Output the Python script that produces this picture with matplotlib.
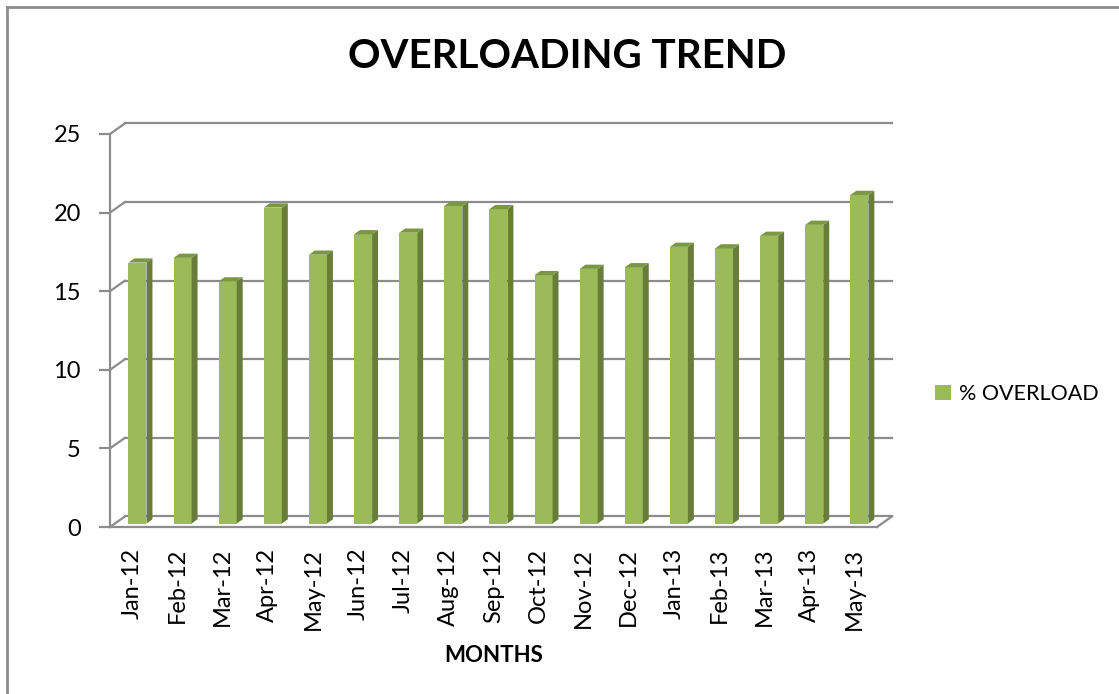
import matplotlib
matplotlib.use("Agg")
import matplotlib.pyplot as plt
from matplotlib.lines import Line2D
from matplotlib.patches import Patch

# --- data -------------------------------------------------------------------
months = ["Jan-12", "Feb-12", "Mar-12", "Apr-12", "May-12", "Jun-12", "Jul-12",
          "Aug-12", "Sep-12", "Oct-12", "Nov-12", "Dec-12", "Jan-13", "Feb-13",
          "Mar-13", "Apr-13", "May-13"]
overload = [16.6, 16.9, 15.4, 20.1, 17.1, 18.4, 18.5, 20.2, 20.0, 15.8, 16.2,
            16.3, 17.6, 17.5, 18.3, 19.0, 20.9]
yticks = [0, 5, 10, 15, 20, 25]

# --- style ------------------------------------------------------------------
FRONT = "#9bbb59"
SIDE = "#677d39"
TOP = "#7a9744"
GRIDC = "#8c8c8c"
plt.rcParams["font.family"] = ["Lato", "DejaVu Sans"]

# depth of the 3-D box (in data units) and where the bars sit inside it
DX, DY = 0.33, 0.67
F0, F1 = 0.33, 0.73
W = 0.40

fig = plt.figure(figsize=(11.19, 6.94), dpi=100)
ax = fig.add_axes([110 / 1119, 1 - 527 / 694, 767 / 1119, 393 / 694])
ax.set_xlim(-0.5, len(months) - 0.5)
ax.set_ylim(0, 25)
for s in ax.spines.values():
    s.set_visible(False)
ax.patch.set_alpha(0)

x0, x1 = -0.5, len(months) - 0.5
gl = dict(color=GRIDC, lw=1.6, clip_on=False, zorder=1)
# back wall gridlines + side wall diagonals
for t in yticks:
    ax.plot([x0 + DX, x1 + DX], [t + DY, t + DY], **gl)
    ax.plot([x0, x0 + DX], [t, t + DY], **gl)
# floor front edge and right diagonal, front vertical axis
ax.plot([x0, x1], [0, 0], **gl)
ax.plot([x1, x1 + DX], [0, DY], **gl)
ax.plot([x0, x0], [0, 25], **gl)

# bars: front face, side face, top face
for i, v in enumerate(overload):
    xl = i - W / 2 + F0 * DX
    xr = i + W / 2 + F0 * DX
    yb = F0 * DY
    d = (F1 - F0)
    ax.bar(xl + W / 2, v, width=W, bottom=yb, color=FRONT, lw=0, zorder=3)
    ax.fill([xr, xr + d * DX, xr + d * DX, xr],
            [yb, yb + d * DY, yb + v + d * DY, yb + v],
            color=SIDE, lw=0, zorder=3, clip_on=False)
    ax.fill([xl, xr, xr + d * DX, xl + d * DX],
            [yb + v, yb + v, yb + v + d * DY, yb + v + d * DY],
            color=TOP, lw=0, zorder=3, clip_on=False)

ax.set_yticks(yticks)
ax.tick_params(axis="y", length=8, width=1.6, color=GRIDC, pad=13,
               labelsize=17, labelcolor="#000000")
ax.set_xticks(range(len(months)))
ax.set_xticklabels(months, rotation=90)
ax.tick_params(axis="x", length=0, pad=15, labelsize=17, labelcolor="#000000")

fig.text(567 / 1119, 1 - 56 / 694, "OVERLOADING TREND", ha="center", va="center",
         fontsize=29, fontweight="bold")
fig.text(494 / 1119, 1 - 655 / 694, "MONTHS", ha="center", va="center",
         fontsize=16, fontweight="bold")

fig.legend(handles=[Patch(facecolor=FRONT, label="% OVERLOAD")],
           loc="center left", bbox_to_anchor=(935 / 1119, 1 - 394 / 694),
           frameon=False, fontsize=15.5, handlelength=0.75, handleheight=0.75,
           handletextpad=0.35, borderpad=0, borderaxespad=0)

# chart frame (left and top edges visible)
fig.add_artist(Line2D([6.5 / 1119, 6.5 / 1119], [0, 1 - 7 / 694],
                      transform=fig.transFigure, color=GRIDC, lw=2))
fig.add_artist(Line2D([6.5 / 1119, 1], [1 - 7 / 694, 1 - 7 / 694],
                      transform=fig.transFigure, color=GRIDC, lw=2))

fig.savefig("out.png", dpi=100)
